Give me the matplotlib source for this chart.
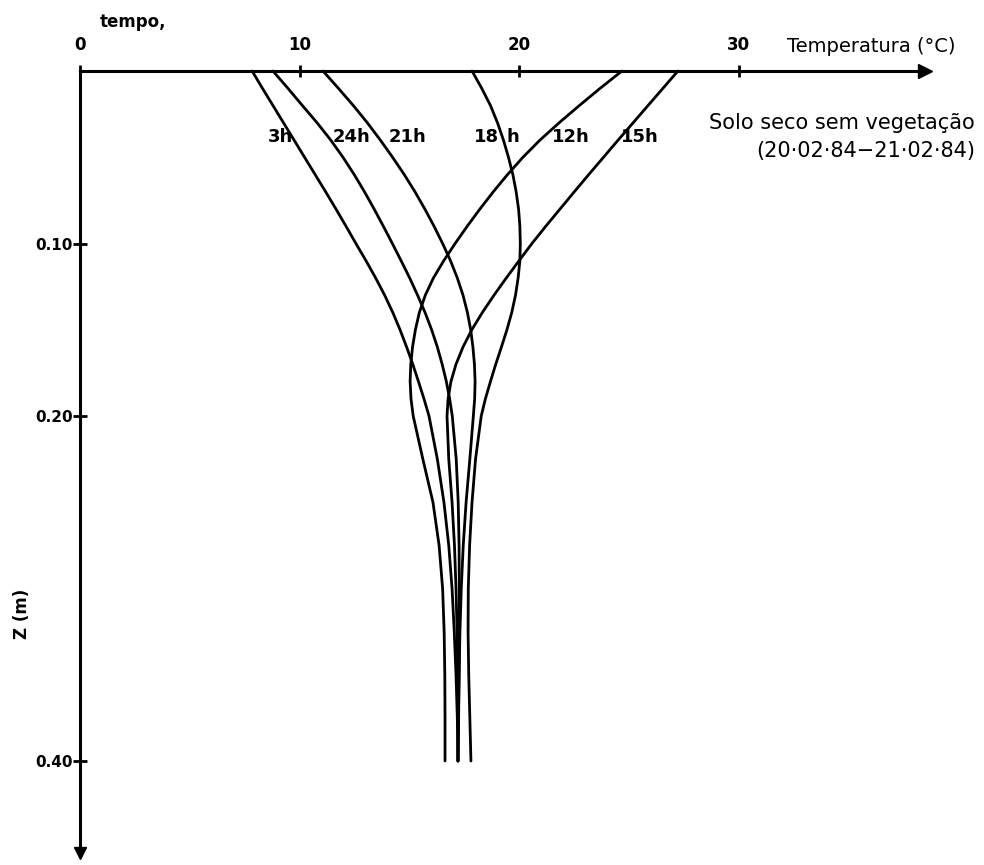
import matplotlib
matplotlib.use("Agg")
import matplotlib.pyplot as plt

# Depths (m) at which the soil temperature profiles are sampled
depth = [0.00, 0.01, 0.02, 0.03, 0.04, 0.05, 0.06, 0.07, 0.08, 0.09, 0.10,
         0.11, 0.12, 0.13, 0.14, 0.15, 0.16, 0.17, 0.18, 0.19, 0.20,
         0.225, 0.25, 0.275, 0.30, 0.325, 0.35, 0.375, 0.40]

# Temperature (°C) profiles for each hour of the day
t_03h = [7.84, 8.31, 8.79, 9.27, 9.75, 10.23, 10.71, 11.19, 11.66, 12.12, 12.57,
         13.03, 13.47, 13.88, 14.25, 14.58, 14.88, 15.16, 15.42, 15.67, 15.90,
         16.28, 16.58, 16.80, 16.95, 17.05, 17.13, 17.19, 17.22]
t_24h = [8.79, 9.47, 10.13, 10.80, 11.42, 11.98, 12.49, 12.96, 13.40, 13.82, 14.23,
         14.63, 15.02, 15.38, 15.72, 16.02, 16.28, 16.50, 16.69, 16.84, 16.96,
         17.14, 17.23, 17.27, 17.28, 17.28, 17.27, 17.25, 17.22]
t_21h = [11.07, 11.77, 12.45, 13.09, 13.68, 14.24, 14.77, 15.26, 15.71, 16.13, 16.52,
         16.88, 17.19, 17.45, 17.65, 17.80, 17.90, 17.97, 18.00, 17.98, 17.92,
         17.76, 17.59, 17.46, 17.37, 17.31, 17.27, 17.24, 17.22]
t_18h = [17.86, 18.30, 18.70, 19.02, 19.29, 19.52, 19.72, 19.87, 19.98, 20.04, 20.06,
         20.04, 19.96, 19.84, 19.67, 19.45, 19.20, 18.94, 18.70, 18.47, 18.28,
         18.02, 17.86, 17.75, 17.69, 17.68, 17.71, 17.76, 17.81]
t_12h = [24.69, 23.70, 22.75, 21.83, 20.96, 20.18, 19.48, 18.83, 18.22, 17.64, 17.09,
         16.57, 16.10, 15.73, 15.46, 15.28, 15.15, 15.07, 15.04, 15.08, 15.18,
         15.62, 16.08, 16.36, 16.52, 16.59, 16.62, 16.63, 16.63]
t_15h = [27.24, 26.56, 25.88, 25.20, 24.52, 23.85, 23.18, 22.52, 21.87, 21.22, 20.59,
         20.00, 19.42, 18.86, 18.33, 17.85, 17.45, 17.13, 16.90, 16.77, 16.72,
         16.80, 16.95, 17.06, 17.13, 17.18, 17.21, 17.22, 17.22]

x_ticks = [0, 10, 20, 30]
x_tick_labels = ["0", "10", "20", "30"]
y_ticks = [0.10, 0.20, 0.40]
y_tick_labels = ["0.10", "0.20", "0.40"]

W, H = 984, 865
fig = plt.figure(figsize=(W / 100, H / 100), dpi=100)
fig.patch.set_facecolor("white")

BOLD = dict(family="DejaVu Sans", weight="bold", color="black")
PLAIN = dict(family="DejaVu Sans", color="black")


def fpos(px, py):
    """Pixel position measured from the top-left corner -> figure fraction."""
    return px / W, 1 - py / H


# Axes box: temperature axis along the top, depth axis pointing down
left, top, right, bottom = 80, 71, 925, 853
ax = fig.add_axes([left / W, 1 - bottom / H, (right - left) / W, (bottom - top) / H])
px_per_deg = 21.95
px_per_m = 1725.0
ax.set_xlim(0, (right - left) / px_per_deg)
ax.set_ylim((bottom - top) / px_per_m, 0)
ax.set_facecolor("none")

for side in ("right", "bottom"):
    ax.spines[side].set_visible(False)
for side in ("top", "left"):
    ax.spines[side].set_linewidth(2.2)
    ax.spines[side].set_color("black")

# Arrowheads at the ends of both axes
xmax = ax.get_xlim()[1]
ymax = ax.get_ylim()[0]
ax.plot([xmax], [0], marker=">", ms=10, color="black", clip_on=False, zorder=5)
ax.plot([0], [ymax], marker="v", ms=9, color="black", clip_on=False, zorder=5)

ax.xaxis.tick_top()
ax.set_xticks(x_ticks)
ax.set_xticklabels(x_tick_labels, fontdict=dict(family="DejaVu Sans", weight="bold", size=12))
ax.tick_params(axis="x", direction="inout", length=9, width=2, pad=8, colors="black")

ax.set_yticks(y_ticks)
ax.set_yticklabels(y_tick_labels, fontdict=dict(family="DejaVu Sans", weight="bold", size=11))
ax.tick_params(axis="y", direction="inout", length=10, width=2, pad=0, colors="black")

profiles = [t_03h, t_24h, t_21h, t_18h, t_12h, t_15h]
for temps in profiles:
    ax.plot(temps, depth, color="black", lw=2.0, solid_capstyle="round",
            solid_joinstyle="round", clip_on=False)

# Hour labels near the top of each profile
hour_labels = [("3h", 280), ("24h", 352), ("21h", 407), ("18", 487), ("h", 513),
               ("12h", 571), ("15h", 640)]
for txt, px in hour_labels:
    fig.text(*fpos(px, 137), txt, ha="center", va="center", size=13, **BOLD)

fig.text(*fpos(100, 22), "tempo,", ha="left", va="center", size=12, **BOLD)
fig.text(*fpos(787, 47), "Temperatura (°C)", ha="left", va="center", size=14, **PLAIN)
fig.text(*fpos(975, 123), "Solo seco sem vegetação", ha="right", va="center", size=15, **PLAIN)
fig.text(*fpos(975, 151), "(20·02·84−21·02·84)", ha="right", va="center", size=15, **PLAIN)
fig.text(*fpos(22, 614), "Z (m)", ha="center", va="center", rotation=90, size=12, **BOLD)

fig.savefig("out.png", dpi=100, facecolor="white")
